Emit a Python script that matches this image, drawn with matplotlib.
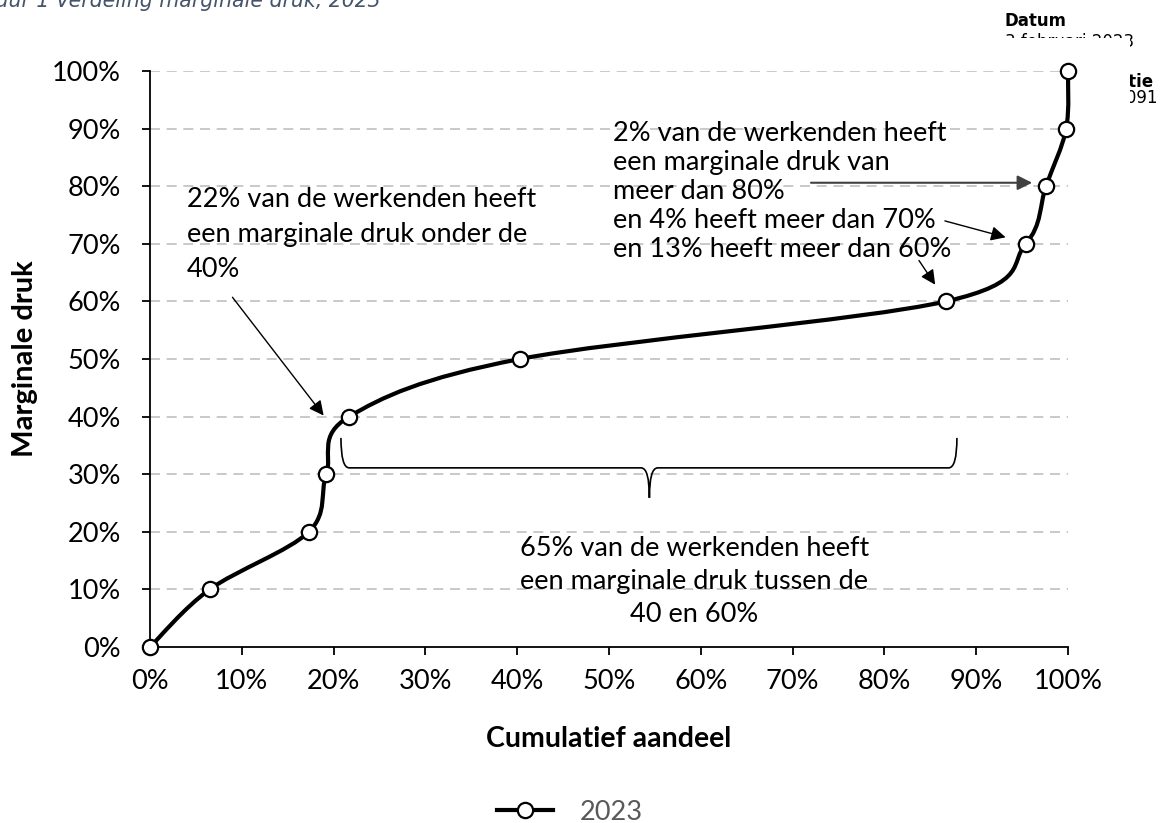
import numpy as np
import matplotlib.pyplot as plt
from matplotlib.path import Path
from matplotlib.patches import PathPatch, Rectangle
from matplotlib.lines import Line2D

# Verdeling marginale druk, 2023
cum_share = [0, 6.5, 17.3, 19.2, 21.7, 40.3, 86.7, 95.4, 97.6, 99.8, 100]
marg_druk = [0, 10, 20, 30, 40, 50, 60, 70, 80, 90, 100]
ticks = list(range(0, 101, 10))
tick_labels = [f"{t}%" for t in ticks]
series_name = "2023"

plt.rcParams['font.family'] = ['Lato', 'DejaVu Sans']
FS = 19.5


def smooth_path(xs, ys):
    # smoothed line like Excel: cubic bezier segments through the points
    pts = np.column_stack([xs, ys]).astype(float)
    n = len(pts)
    verts = [pts[0]]
    codes = [Path.MOVETO]
    for i in range(n - 1):
        p0 = pts[max(i - 1, 0)]
        p1 = pts[i]
        p2 = pts[i + 1]
        p3 = pts[min(i + 2, n - 1)]
        verts += [p1 + (p2 - p0) / 6, p2 - (p3 - p1) / 6, p2]
        codes += [Path.CURVE4] * 3
    return Path(verts, codes)


fig = plt.figure(figsize=(11.61, 8.23), dpi=100)

# bits of the surrounding document (cropped in the original too)
fig.text(-0.0305, 1 - 7 / 823, "Figuur 1 Verdeling marginale druk, 2023", fontsize=14.8,
         style='italic', color='#44546a', family='DejaVu Sans', va='baseline', zorder=0.5)
fig.text(1005 / 1161, 1 - 21 / 823, "Datum", fontsize=12, weight='bold',
         family='DejaVu Sans', va='center', zorder=0.5)
fig.text(1005 / 1161, 1 - 42 / 823, "3 februari 2023", fontsize=12,
         family='DejaVu Sans', va='center', zorder=0.5)
fig.text(1154 / 1161, 1 - 82 / 823, "Referentie", fontsize=12, weight='bold',
         family='DejaVu Sans', va='center', ha='right', zorder=0.5)
fig.text(1158 / 1161, 1 - 98 / 823, "2023-0000029091", fontsize=12,
         family='DejaVu Sans', va='center', ha='right', zorder=0.5)
fig.patches.append(Rectangle((0, 0), 1130 / 1161, (823 - 38) / 823, transform=fig.transFigure,
                             facecolor='white', edgecolor='none', zorder=0.8))

ax = fig.add_axes([150 / 1161, 1 - 647 / 823, 918 / 1161, 576 / 823], zorder=2)
ax.set_xlim(0, 100)
ax.set_ylim(0, 100)

ax.set_yticks(ticks)
ax.set_yticklabels(tick_labels, fontsize=FS)
ax.set_xticks(ticks)
ax.set_xticklabels(tick_labels, fontsize=FS)
ax.tick_params(direction='out', length=6, width=1.3)
ax.tick_params(axis='x', pad=10)
ax.tick_params(axis='y', pad=15)
for s in ['top', 'right']:
    ax.spines[s].set_visible(False)
for s in ['left', 'bottom']:
    ax.spines[s].set_linewidth(1.3)

for t in ticks[1:]:
    ax.axhline(t, color='#c0c0c0', lw=1.2, dashes=(6, 4), zorder=0)

ax.add_patch(PathPatch(smooth_path(cum_share, marg_druk), fill=False, lw=3,
                       edgecolor='black', clip_on=False, zorder=3))
ax.plot(cum_share, marg_druk, 'o', ms=11, mfc='white', mec='black', mew=1.6,
        clip_on=False, zorder=4)

ax.set_ylabel("Marginale druk", fontsize=21, weight='bold')
ax.yaxis.set_label_coords(-0.122, 0.5)
ax.set_xlabel("Cumulatief aandeel", fontsize=20.5, weight='bold')
ax.xaxis.set_label_coords(0.5, -0.137)

# annotations
ax.text(4.0, 79.8, "22% van de werkenden heeft\neen marginale druk onder de\n40%",
        fontsize=FS, va='top', ha='left', linespacing=1.5)
ax.annotate("", xy=(19.1, 39.8), xytext=(8.8, 61.1),
            arrowprops=dict(arrowstyle='-|>', lw=1, color='black', mutation_scale=22))

ax.text(50.4, 91.4, "2% van de werkenden heeft\neen marginale druk van\nmeer dan 80%\n"
        "en 4% heeft meer dan 70%\nen 13% heeft meer dan 60%",
        fontsize=FS, va='top', ha='left', linespacing=1.21)
ax.annotate("", xy=(96.4, 80.6), xytext=(71.7, 80.6),
            arrowprops=dict(arrowstyle='-|>', lw=1.5, color='#404040', mutation_scale=22))
ax.annotate("", xy=(93.5, 71.0), xytext=(86.3, 74.1),
            arrowprops=dict(arrowstyle='-|>', lw=1, color='black', mutation_scale=22))
ax.annotate("", xy=(85.7, 62.5), xytext=(83.6, 67.5),
            arrowprops=dict(arrowstyle='-|>', lw=1, color='black', mutation_scale=22))

# brace under the 40-60% part
bl, br, bm = 20.8, 87.9, 54.4
ytop, ymid, ytip = 36.3, 31.1, 25.9
brace = Path([(bl, ytop), (bl, ymid), (bl + 0.9, ymid),
              (bm - 0.9, ymid), (bm, ymid), (bm, ytip),
              (bm, ymid), (bm + 0.9, ymid),
              (br - 0.9, ymid), (br, ymid), (br, ytop)],
             [Path.MOVETO, Path.CURVE3, Path.CURVE3,
              Path.LINETO, Path.CURVE3, Path.CURVE3,
              Path.CURVE3, Path.CURVE3,
              Path.LINETO, Path.CURVE3, Path.CURVE3])
ax.add_patch(PathPatch(brace, fill=False, lw=1.2, edgecolor='black', zorder=3))

ax.text(59.3, 19.2, "65% van de werkenden heeft\neen marginale druk tussen de\n40 en 60%",
        fontsize=FS, va='top', ha='center', linespacing=1.40)

handle = Line2D([], [], color='black', lw=3, marker='o', ms=11, mfc='white',
                mec='black', mew=1.6)
fig.legend(handles=[handle], labels=[series_name], loc='center',
           bbox_to_anchor=(570 / 1161, 1 - 812 / 823), frameon=False, fontsize=FS,
           handlelength=2.05, handletextpad=1.0, labelcolor='#595959')

fig.savefig("out.png", dpi=100)
